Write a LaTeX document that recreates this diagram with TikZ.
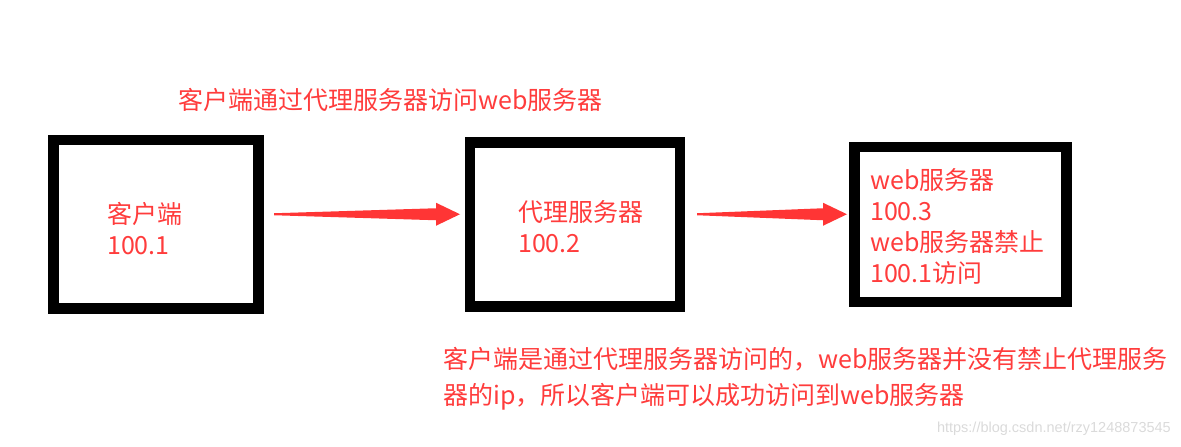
\documentclass[tikz,border=0pt]{standalone}
\usepackage{fontspec}
\setmainfont{Noto Sans CJK SC}
\newfontfamily\markfont{Liberation Sans}
\usepackage{xcolor}
\usepackage{tikz}
\usetikzlibrary{positioning,calc}
\definecolor{notered}{HTML}{FF3C3C}
\definecolor{arrowred}{HTML}{FF3535}
\definecolor{markgray}{HTML}{DADADA}

\begin{document}
\begin{tikzpicture}
			[x=1pt, y=1pt,
				% STYLES
				% The box style is used to draw the three hosts
				box/.style={rectangle, draw=black, line width=10.5pt, outer sep=0pt,
						inner sep=0pt},
				% The note style is used for all the red texts
				note/.style={text=notered, align=left, inner sep=0pt,
						font=\fontsize{25}{31}\selectfont},
				% The taper style draws a red arrow that is thin at its tail
				taper/.style={to path={
								($(\tikztostart)+(0,1)$) -- ($(\tikztotarget)+(-24,6)$)
								-- ($(\tikztotarget)+(-24,11.5)$) -- (\tikztotarget)
								-- ($(\tikztotarget)+(-24,-11.5)$) -- ($(\tikztotarget)+(-24,-6)$)
								-- ($(\tikztostart)+(0,-1)$) -- cycle}}]

			\useasboundingbox (0,0) rectangle (1181,-447);

			% Draw hosts
			\node [box, minimum width=205pt, minimum height=168.5pt] (client) at (156,-224.25) {};
			\node [box, minimum width=210pt, minimum height=164pt, right=211.5pt of client] (proxy) {};
			\node [box, minimum width=212pt, minimum height=155pt, right=174.5pt of proxy] (server) {};

			% Texts of the hosts
			\node [note, anchor=west] (clienttxt) at ([xshift=53.5pt,yshift=-4pt]client.west) {客户端\\100.1};
			\node [note, anchor=west] (proxytxt) at ([xshift=48pt,yshift=-2pt]proxy.west) {代理服务器\\100.2};
			\node [note, anchor=west] (servertxt) at ([xshift=15.5pt,yshift=-2.5pt]server.west) {web服务器\\100.3\\web服务器禁止\\100.1访问};

			% Title and explanation
			\node [note, anchor=west] (title) at (178,-99.5) {客户端通过代理服务器访问web服务器};
			\node [note, anchor=north west, font=\fontsize{25}{36}\selectfont] (reason) at (443,-347) {
				客户端是通过代理服务器访问的，web服务器并没有禁止代理服务\\
				器的ip，所以客户端可以成功访问到web服务器};
			\node [anchor=east, inner sep=0pt, text=markgray, font=\markfont\fontsize{14.5}{16}\selectfont]
				(mark) at (1171,-429) {https://blog.csdn.net/rzy1248873545};

			% Draw arrows
			\coordinate (a1) at ([xshift=15.5pt,yshift=10pt]client.east);
			\coordinate (a2) at ([xshift=-10pt,yshift=10pt]proxy.west);
			\coordinate (b1) at ([xshift=17pt,yshift=10pt]proxy.east);
			\coordinate (b2) at ([xshift=-7.5pt,yshift=10pt]server.west);

			\fill [arrowred]
			(a1) to [taper] (a2)
			(b1) to [taper] (b2);
		\end{tikzpicture}
\end{document}
